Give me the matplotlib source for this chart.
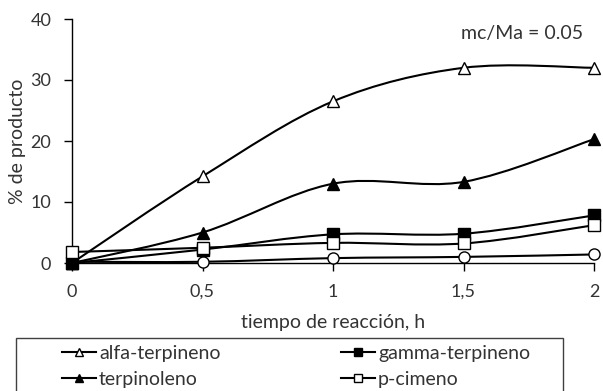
import matplotlib
matplotlib.use("Agg")
import matplotlib.pyplot as plt
import numpy as np
from matplotlib.path import Path
from matplotlib.patches import PathPatch, Rectangle
from matplotlib.lines import Line2D

plt.rcParams['font.family'] = ['Lato', 'DejaVu Sans']

tiempo = [0, 0.5, 1, 1.5, 2]
alfa_terpineno = [0, 14.2, 26.5, 32.0, 32.0]
gamma_terpineno = [0, 2.2, 4.7, 4.8, 7.8]
terpinoleno = [0, 5.0, 13.0, 13.3, 20.3]
p_cimeno = [1.8, 2.5, 3.3, 3.2, 6.2]
serie5 = [0.2, 0.2, 0.8, 1.0, 1.4]

x_ticks = [0, 0.5, 1, 1.5, 2]
x_ticklabels = ["0", "0,5", "1", "1,5", "2"]
y_ticks = [0, 10, 20, 30, 40]

TXT = '#333333'

fig = plt.figure(figsize=(6.03, 3.91), dpi=100)
ax = fig.add_axes([72/603, 1-263/391, (594-72)/603, (263-19)/391])
ax.set_xlim(0, 2)
ax.set_ylim(0, 40)


def smooth_path(xs, ys):
    pts = np.column_stack([xs, ys]).astype(float)
    n = len(pts)
    verts = [pts[0]]
    codes = [Path.MOVETO]
    for i in range(n - 1):
        p0 = pts[i - 1] if i > 0 else pts[i]
        p1 = pts[i]
        p2 = pts[i + 1]
        p3 = pts[i + 2] if i + 2 < n else pts[i + 1]
        c1 = p1 + (p2 - p0) / 6.0
        c2 = p2 - (p3 - p1) / 6.0
        verts += [c1, c2, p2]
        codes += [Path.CURVE4] * 3
    return Path(verts, codes)


series = [
    (alfa_terpineno, '^', 'white', "alfa-terpineno", 2.4),
    (gamma_terpineno, 's', 'black', "gamma-terpineno", 2.5),
    (terpinoleno, '^', 'black', "terpinoleno", 2.6),
    (p_cimeno, 's', 'white', "p-cimeno", 2.7),
    (serie5, 'o', 'white', "", 2.0),
]

handles = []
for vals, mk, fc, lab, z in series:
    patch = PathPatch(smooth_path(tiempo, vals), facecolor='none',
                      edgecolor='black', lw=1.5, zorder=z)
    ax.add_patch(patch)
    ax.plot(tiempo, vals, linestyle='none', marker=mk, markersize=8,
            markerfacecolor=fc, markeredgecolor='black', markeredgewidth=1,
            zorder=z + 1, clip_on=False)
    h = Line2D([], [], color='black', lw=1.5, marker=mk, markersize=6,
               markerfacecolor=fc, markeredgecolor='black', markeredgewidth=1)
    handles.append((h, lab))

for s in ['top', 'right']:
    ax.spines[s].set_visible(False)
for s in ['left', 'bottom']:
    ax.spines[s].set_color('black')
    ax.spines[s].set_linewidth(1)

ax.set_xticks(x_ticks)
ax.set_xticklabels(x_ticklabels)
ax.set_yticks(y_ticks)
ax.tick_params(axis='both', direction='out', length=6, width=1, colors='black',
               labelsize=13, labelcolor=TXT)
ax.tick_params(axis='x', pad=9)
ax.tick_params(axis='y', pad=9)

ax.set_xlabel("tiempo de reacción, h", fontsize=14, color=TXT, labelpad=10)
ax.set_ylabel("% de producto", fontsize=14, color=TXT, labelpad=3)

ax.text((522 - 72) / 522, 1 - (33 - 19) / 244,
        "mc/Ma = 0.05", transform=ax.transAxes, ha='center',
        va='center', fontsize=14, color=TXT)

# legend frame
fig.patches.append(Rectangle((16/603, -0.05), (563-16)/603, 0.05 + 1-338/391,
                             transform=fig.transFigure, facecolor='none',
                             edgecolor='#404040', lw=1))

col1 = [handles[0], handles[2], handles[4]]
col2 = [handles[1], handles[3]]
leg_kw = dict(frameon=False, fontsize=14, handlelength=1.75, handletextpad=0.15,
              labelspacing=0.45, borderpad=0, borderaxespad=0, loc='upper left',
              labelcolor=TXT)
l1 = fig.legend([h for h, _ in col1], [l for _, l in col1],
                bbox_to_anchor=(62/603, 1-345/391), **leg_kw)
l2 = fig.legend([h for h, _ in col2], [l for _, l in col2],
                bbox_to_anchor=(341/603, 1-345/391), **leg_kw)

fig.savefig("out.png", dpi=100)
